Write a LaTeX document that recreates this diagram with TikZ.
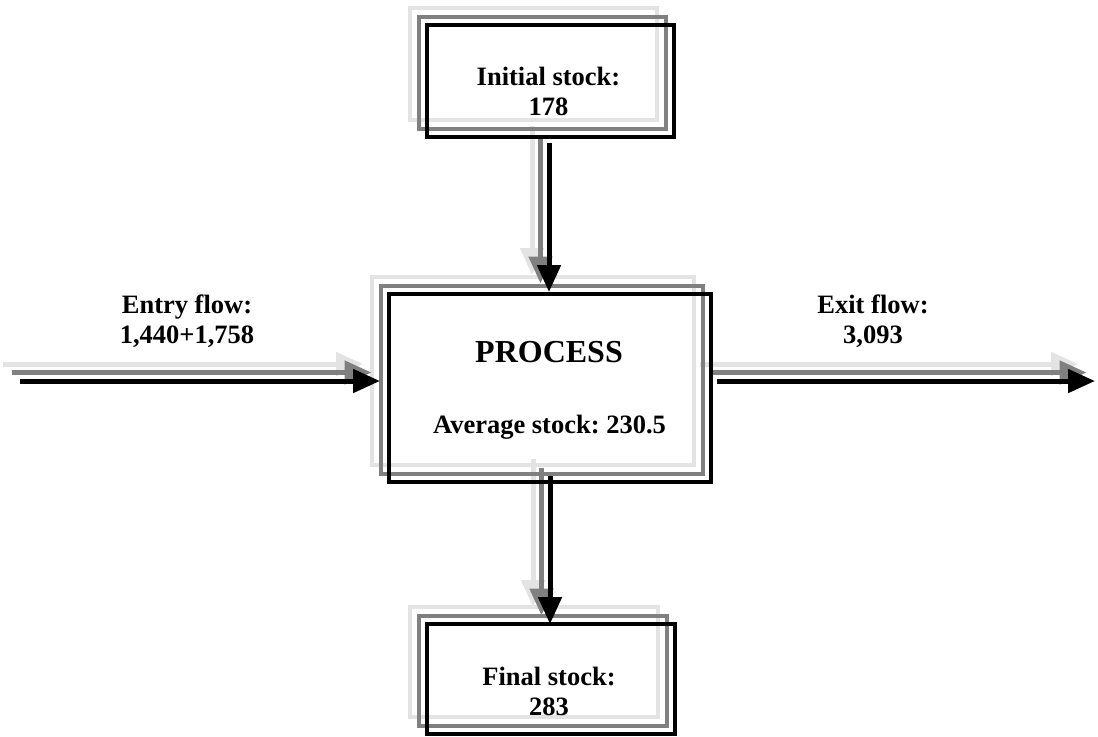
\documentclass[tikz,border=0pt]{standalone}
\usepackage{fontspec}
\setmainfont{Liberation Serif}
\frenchspacing
\usetikzlibrary{arrows.meta}
\definecolor{shadelight}{gray}{0.89}
\definecolor{shadedark}{gray}{0.5}
\tikzset{
  box/.style={rectangle, inner sep=0pt, outer sep=0pt},
  boxline/.style={line width=2pt},
  flowline/.style={line width=2.5pt, -{Triangle[length=13.5pt,width=11.5pt]}},
  lbl/.style={font=\bfseries\fontsize{13.25}{15}\selectfont, align=center, anchor=base, inner sep=0pt}
}

\begin{document}
\begin{tikzpicture}[x=0.5pt,y=-0.5pt]
  \useasboundingbox (0,0) rectangle (1098,736);
  \path (550.5,81) node[box, minimum width=123.5pt, minimum height=56pt] (init) {};
  \path (550,388) node[box, minimum width=161pt, minimum height=94pt] (proc) {};
  \path (551,679) node[box, minimum width=124pt, minimum height=55pt] (final) {};
  \coordinate (entry) at (20,381);
  \coordinate (exit) at (1095,381);

  \foreach \d/\c in {17/shadelight, 8.5/shadedark, 0/black} {
    \draw[boxline, draw=\c] ([shift={(-\d,-\d)}]init.south west) rectangle ([shift={(-\d,-\d)}]init.north east);
    \draw[boxline, draw=\c] ([shift={(-\d,-\d)}]proc.south west) rectangle ([shift={(-\d,-\d)}]proc.north east);
    \draw[boxline, draw=\c] ([shift={(-\d,-\d)}]final.south west) rectangle ([shift={(-\d,-\d)}]final.north east);
    \draw[flowline, \c, shorten >=4.5pt] ([shift={(-\d,-\d)}]entry) -- ([shift={(-\d,-\d)}]entry -| proc.west);
    \draw[flowline, \c, shorten <=3pt] ([shift={(-\d,-\d)}]exit -| proc.east) -- ([shift={(-\d,-\d)}]exit);
    \draw[flowline, \c, shorten <=3pt, shorten >=1pt] ([shift={(-1.5-\d,-\d)}]init.south) -- ([shift={(-1-\d,-\d)}]proc.north);
    \draw[flowline, \c] ([shift={(-\d,-6-\d)}]proc.south) -- ([shift={(-1-\d,-\d)}]final.north);
  }

  \node[lbl] (initlbl) at (548.5,115) {Initial stock:\\178};
  \node[lbl, font=\bfseries\fontsize{16}{18}\selectfont] (proctitle) at (549,362) {PROCESS};
  \node[lbl] (procavg) at (549.5,433) {Average stock: 230.5};
  \node[lbl] (entrylbl) at (187,343) {Entry flow:\\1,440+1,758};
  \node[lbl] (exitlbl) at (873,343) {Exit flow:\\3,093};
  \node[lbl] (finallbl) at (549,715) {Final stock:\\283};
\end{tikzpicture}
\end{document}
